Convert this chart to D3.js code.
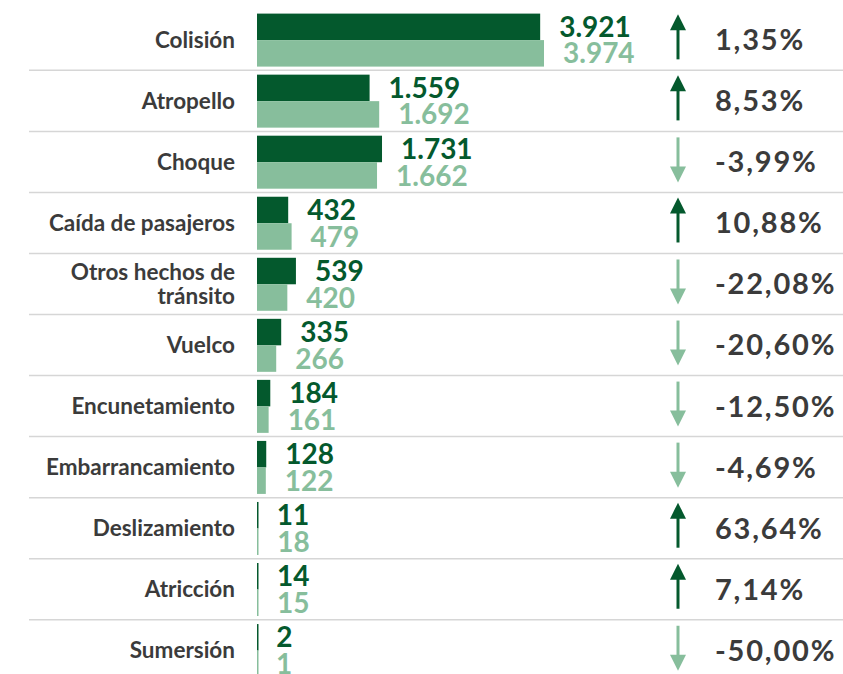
<!DOCTYPE html>
<html>
<head>
<meta charset="utf-8">
<script src="https://cdn.jsdelivr.net/npm/d3@7"></script>
<style>
body { margin: 0; background: #fff; }
svg { display: block; }
</style>
</head>
<body>
<script>
// categories and the two series (dark = first period, light = second period)
var categories = ["Colisión", "Atropello", "Choque", "Caída de pasajeros", "Otros hechos de|tránsito",
    "Vuelco", "Encunetamiento", "Embarrancamiento", "Deslizamiento", "Atricción", "Sumersión"];
var valuesDark = [3921, 1559, 1731, 432, 539, 335, 184, 128, 11, 14, 2];
var valuesLight = [3974, 1692, 1662, 479, 420, 266, 161, 122, 18, 15, 1];

var width = 843, height = 674;
var darkColor = "#04592d", lightColor = "#87be9c", textColor = "#3b3b3b";

var locale = d3.formatLocale({decimal: ",", thousands: ".", grouping: [3], currency: ["", ""], minus: "-"});
var fmtNum = locale.format(",d");
var fmtPct = locale.format(".2f");

var svg = d3.select("body")
    .append("svg")
    .attr("width", width)
    .attr("height", height);

var y = d3.scaleBand()
    .domain(categories)
    .range([9.3, 680.8]);

var x = d3.scaleLinear()
    .domain([0, d3.max(valuesLight)])
    .range([257, 544]);

var rows = categories.map(function(c, i) {
    return {name: c, a: valuesDark[i], b: valuesLight[i], i: i};
});

// separators
svg.selectAll(".sep")
    .data(rows.slice(1))
    .enter()
    .append("line")
    .attr("x1", 29)
    .attr("x2", width)
    .attr("y1", function(d) { return y(d.name); })
    .attr("y2", function(d) { return y(d.name); })
    .attr("stroke", "#d6d6d6")
    .attr("stroke-width", 1.5);

var row = svg.selectAll(".row")
    .data(rows)
    .enter()
    .append("g")
    .attr("class", "row")
    .attr("transform", function(d) { return "translate(0," + y(d.name) + ")"; });

var bw = y.bandwidth();
var barH = 26.5, barTop = 4.3;

// category labels
row.append("text")
    .attr("x", 235)
    .attr("y", bw / 2)
    .attr("text-anchor", "end")
    .attr("font-family", "Lato")
    .attr("font-weight", 700)
    .attr("font-size", 22.5)
    .attr("fill", textColor)
    .each(function(d) {
        var lines = d.name.split("|");
        var t = d3.select(this);
        lines.forEach(function(l, k) {
            t.append("tspan")
                .attr("x", 235)
                .attr("dy", k == 0 ? (0.36 - (lines.length - 1) * 0.52) + "em" : "1.04em")
                .text(l);
        });
    });

// bars
row.append("rect")
    .attr("x", x(0))
    .attr("y", barTop)
    .attr("width", function(d) { return Math.max(1.5, x(d.a) - x(0)); })
    .attr("height", barH)
    .attr("fill", darkColor);

row.append("rect")
    .attr("x", x(0))
    .attr("y", barTop + barH)
    .attr("width", function(d) { return Math.max(1.5, x(d.b) - x(0)); })
    .attr("height", barH)
    .attr("fill", lightColor);

// value labels
row.append("text")
    .attr("x", function(d) { return x(d.a) + 19; })
    .attr("y", barTop + barH / 2)
    .attr("dy", "0.36em")
    .attr("font-family", "Lato")
    .attr("font-weight", 700)
    .attr("font-size", 28)
    .attr("fill", darkColor)
    .text(function(d) { return fmtNum(d.a); });

row.append("text")
    .attr("x", function(d) { return x(d.b) + 19; })
    .attr("y", barTop + barH * 1.5)
    .attr("dy", "0.36em")
    .attr("font-family", "Lato")
    .attr("font-weight", 700)
    .attr("font-size", 28)
    .attr("fill", lightColor)
    .text(function(d) { return fmtNum(d.b); });

// arrows
var ax = 678;
row.append("path")
    .attr("d", function(d) {
        var top = 6, bot = bw - 11;
        if (d.b >= d.a) {
            return "M" + ax + "," + bot + "L" + ax + "," + (top + 12);
        }
        return "M" + ax + "," + top + "L" + ax + "," + (bot - 12);
    })
    .attr("stroke", function(d) { return d.b >= d.a ? darkColor : lightColor; })
    .attr("stroke-width", 3)
    .attr("fill", "none");

row.append("path")
    .attr("d", function(d) {
        var top = 5, bot = bw - 10;
        if (d.b >= d.a) {
            return "M" + ax + "," + top + "L" + (ax + 8) + "," + (top + 16) + "L" + (ax - 8) + "," + (top + 16) + "Z";
        }
        return "M" + ax + "," + bot + "L" + (ax + 8) + "," + (bot - 16) + "L" + (ax - 8) + "," + (bot - 16) + "Z";
    })
    .attr("fill", function(d) { return d.b >= d.a ? darkColor : lightColor; });

// percent change
row.append("text")
    .attr("x", 715)
    .attr("y", bw / 2)
    .attr("dy", "0.36em")
    .attr("font-family", "Lato")
    .attr("font-weight", 700)
    .attr("font-size", 29)
    .attr("letter-spacing", 1.8)
    .attr("fill", textColor)
    .text(function(d) { return fmtPct((d.b - d.a) / d.a * 100) + "%"; });
</script>
</body>
</html>
